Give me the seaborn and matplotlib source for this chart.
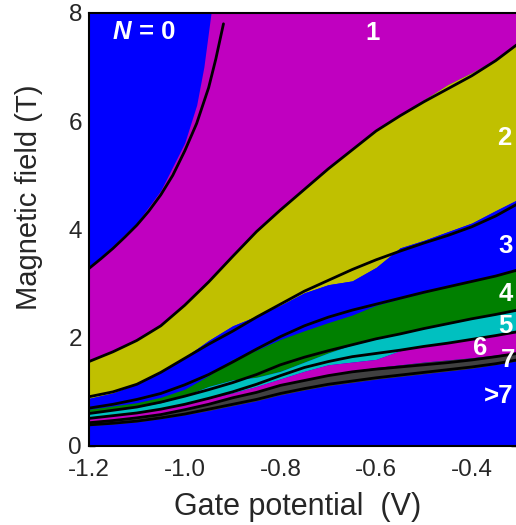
import matplotlib
matplotlib.use("Agg")
import matplotlib.pyplot as plt
import numpy as np
import pandas as pd
import seaborn as sns

# ---------------- data ----------------
gate_v = [-1.2, -1.15, -1.1, -1.05, -1.0, -0.95, -0.9, -0.85, -0.8, -0.75,
          -0.7, -0.65, -0.6, -0.55, -0.5, -0.45, -0.4, -0.35, -0.305]

# fitted boundaries (black curves)
fit_v_0_1 = [-1.2, -1.175, -1.15, -1.125, -1.1, -1.075, -1.05, -1.025, -1.0,
             -0.975, -0.95, -0.935, -0.919]
fit_b_0_1 = [3.28, 3.46, 3.65, 3.86, 4.08, 4.34, 4.64, 5.0, 5.45, 5.96, 6.62, 7.15, 7.8]
fit_1_2 = [1.56, 1.74, 1.95, 2.22, 2.6, 3.03, 3.5, 3.96, 4.36, 4.74, 5.12, 5.47, 5.82, 6.1, 6.36, 6.6, 6.84, 7.12, 7.42]
fit_2_3 = [0.91, 1.0, 1.14, 1.36, 1.62, 1.88, 2.12, 2.38, 2.62, 2.86, 3.06, 3.26, 3.44, 3.6, 3.75, 3.89, 4.05, 4.25, 4.47]
fit_3_4 = [0.70, 0.77, 0.86, 0.97, 1.13, 1.32, 1.55, 1.79, 2.02, 2.22, 2.38, 2.51, 2.62, 2.73, 2.84, 2.94, 3.04, 3.14, 3.25]
fit_4_5 = [0.60, 0.66, 0.72, 0.81, 0.92, 1.04, 1.17, 1.32, 1.5, 1.64, 1.76, 1.87, 1.98, 2.07, 2.17, 2.26, 2.35, 2.43, 2.51]
fit_5_6 = [0.51, 0.56, 0.61, 0.68, 0.77, 0.88, 1.0, 1.14, 1.3, 1.45, 1.56, 1.65, 1.71, 1.77, 1.84, 1.9, 1.97, 2.04, 2.11]
fit_6_7 = [0.43, 0.47, 0.52, 0.58, 0.67, 0.77, 0.89, 0.99, 1.12, 1.21, 1.3, 1.37, 1.42, 1.46, 1.5, 1.54, 1.59, 1.65, 1.71]
fit_7_8 = [0.39, 0.42, 0.46, 0.52, 0.59, 0.68, 0.77, 0.86, 0.97, 1.06, 1.14, 1.2, 1.26, 1.31, 1.36, 1.41, 1.46, 1.52, 1.59]

# simulated phase-region edges (coloured areas)
edge_v_0_1 = [-1.2, -1.15, -1.1, -1.05, -1.0, -0.975, -0.96, -0.945]
edge_b_0_1 = [3.3, 3.7, 4.12, 4.72, 5.6, 6.3, 7.0, 8.0]
edge_1_2 = [1.58, 1.76, 1.98, 2.25, 2.62, 3.05, 3.5, 3.96, 4.36, 4.74, 5.12, 5.5, 5.84, 6.12, 6.4, 6.68, 6.9, 7.14, 7.42]
edge_2_3 = [0.88, 0.98, 1.14, 1.37, 1.64, 1.95, 2.22, 2.4, 2.6, 2.83, 2.98, 3.05, 3.3, 3.66, 3.8, 3.96, 4.12, 4.35, 4.55]
edge_3_4 = [0.68, 0.74, 0.8, 0.9, 1.05, 1.3, 1.6, 1.77, 1.97, 2.13, 2.28, 2.42, 2.6, 2.72, 2.83, 2.95, 3.06, 3.16, 3.27]
edge_4_5 = [0.6, 0.66, 0.72, 0.8, 0.93, 1.1, 1.22, 1.27, 1.38, 1.55, 1.72, 1.87, 1.98, 2.07, 2.17, 2.26, 2.35, 2.43, 2.51]
edge_5_6 = [0.53, 0.58, 0.63, 0.69, 0.78, 0.88, 0.98, 1.1, 1.24, 1.38, 1.5, 1.55, 1.6, 1.76, 1.85, 1.92, 1.99, 2.05, 2.1]
edge_6_7 = [0.44, 0.48, 0.53, 0.6, 0.68, 0.78, 0.9, 1.0, 1.12, 1.22, 1.31, 1.39, 1.45, 1.5, 1.55, 1.59, 1.63, 1.68, 1.73]
edge_7_8 = [0.37, 0.4, 0.44, 0.5, 0.57, 0.65, 0.74, 0.83, 0.94, 1.03, 1.11, 1.17, 1.23, 1.28, 1.33, 1.38, 1.43, 1.5, 1.57]

region_labels = ["1", "2", "3", "4", "5", "6", "7", ">7"]
label_v = [-0.607, -0.333, -0.329, -0.329, -0.329, -0.383, -0.325, -0.345]
label_b = [7.5, 5.56, 3.57, 2.67, 2.09, 1.68, 1.46, 0.79]

x_ticks = [-1.2, -1.0, -0.8, -0.6, -0.4]
x_tick_labels = ["-1.2", "-1.0", "-0.8", "-0.6", "-0.4"]
y_ticks = [0, 2, 4, 6, 8]

# ---------------- styling ----------------
sns.set_style("ticks")
plt.rcParams["font.family"] = ["Liberation Sans", "DejaVu Sans"]
plt.rcParams["axes.unicode_minus"] = False

BLUE = "#0000ff"
MAG = "#c000c0"
YEL = "#c0c000"
GRN = "#008000"
CYA = "#00c0c0"
GRY = "#404040"

fig = plt.figure(figsize=(5.16, 5.25), dpi=100)
ax = fig.add_axes([0.1725, 0.1505, 0.83, 0.8248])
ax.set_facecolor(BLUE)

v = np.array(gate_v)
TOP = 8.0
ax.fill_between(v, edge_1_2, TOP, color=MAG, lw=0, zorder=1)
ax.fill_between(edge_v_0_1, edge_b_0_1, TOP, color=BLUE, lw=0, zorder=1.1)
ax.fill_between(v, edge_2_3, edge_1_2, color=YEL, lw=0, zorder=1.2)
ax.fill_between(v, edge_3_4, edge_2_3, color=BLUE, lw=0, zorder=1.3)
ax.fill_between(v, edge_4_5, edge_3_4, color=GRN, lw=0, zorder=1.4)
ax.fill_between(v, edge_5_6, edge_4_5, color=CYA, lw=0, zorder=1.5)
ax.fill_between(v, edge_6_7, edge_5_6, color=MAG, lw=0, zorder=1.6)
ax.fill_between(v, edge_7_8, edge_6_7, color=GRY, lw=0, zorder=1.7)
ax.fill_between(v, 0, edge_7_8, color=BLUE, lw=0, zorder=1.8)

# black fitted curves
frames = [pd.DataFrame({"V": fit_v_0_1, "B": fit_b_0_1, "curve": "0-1"})]
for name, arr in [("1-2", fit_1_2), ("2-3", fit_2_3), ("3-4", fit_3_4),
                  ("4-5", fit_4_5), ("5-6", fit_5_6), ("6-7", fit_6_7),
                  ("7-8", fit_7_8)]:
    frames.append(pd.DataFrame({"V": gate_v, "B": arr, "curve": name}))
fits = pd.concat(frames, ignore_index=True)
sns.lineplot(data=fits, x="V", y="B", units="curve", estimator=None,
             color="black", linewidth=2.0, sort=False, ax=ax, zorder=3)

# labels in regions
FS = 18.5
lab_kw = dict(color="white", fontsize=FS, fontweight="bold", zorder=4,
              ha="center", va="baseline")
t = ax.text(-1.15, 7.52, "N", style="italic", color="white", fontsize=FS,
            fontweight="bold", va="baseline", ha="left", zorder=4)
ax.annotate("= 0", xy=(1, 0), xycoords=t, xytext=(5, 0),
            textcoords="offset points", color="white", fontsize=FS,
            fontweight="bold", va="bottom", ha="left", zorder=4)
for s, xv, yv in zip(region_labels, label_v, label_b):
    ax.text(xv, yv, s, **lab_kw)

ax.set_xlim(-1.2, -0.305)
ax.set_ylim(0, 8)
ax.set_xticks(x_ticks)
ax.set_xticklabels(x_tick_labels)
ax.set_yticks(y_ticks)
ax.tick_params(direction="in", top=True, right=True, length=4, width=1,
               labelsize=17.5, color="black")
ax.tick_params(axis="x", pad=9.5)
ax.tick_params(axis="y", pad=5)
for lbl in ax.get_yticklabels():
    lbl.set_verticalalignment("center_baseline")
for sp in ax.spines.values():
    sp.set_linewidth(1.5)
    sp.set_color("black")
    sp.set_zorder(5)
ax.set_xlabel("Gate potential  (V)", fontsize=22)
ax.set_ylabel("Magnetic field (T)", fontsize=21)
ax.xaxis.set_label_coords(0.487, -0.106)
ax.yaxis.set_label_coords(-0.107, 0.574)

fig.savefig("out.png", dpi=100)
